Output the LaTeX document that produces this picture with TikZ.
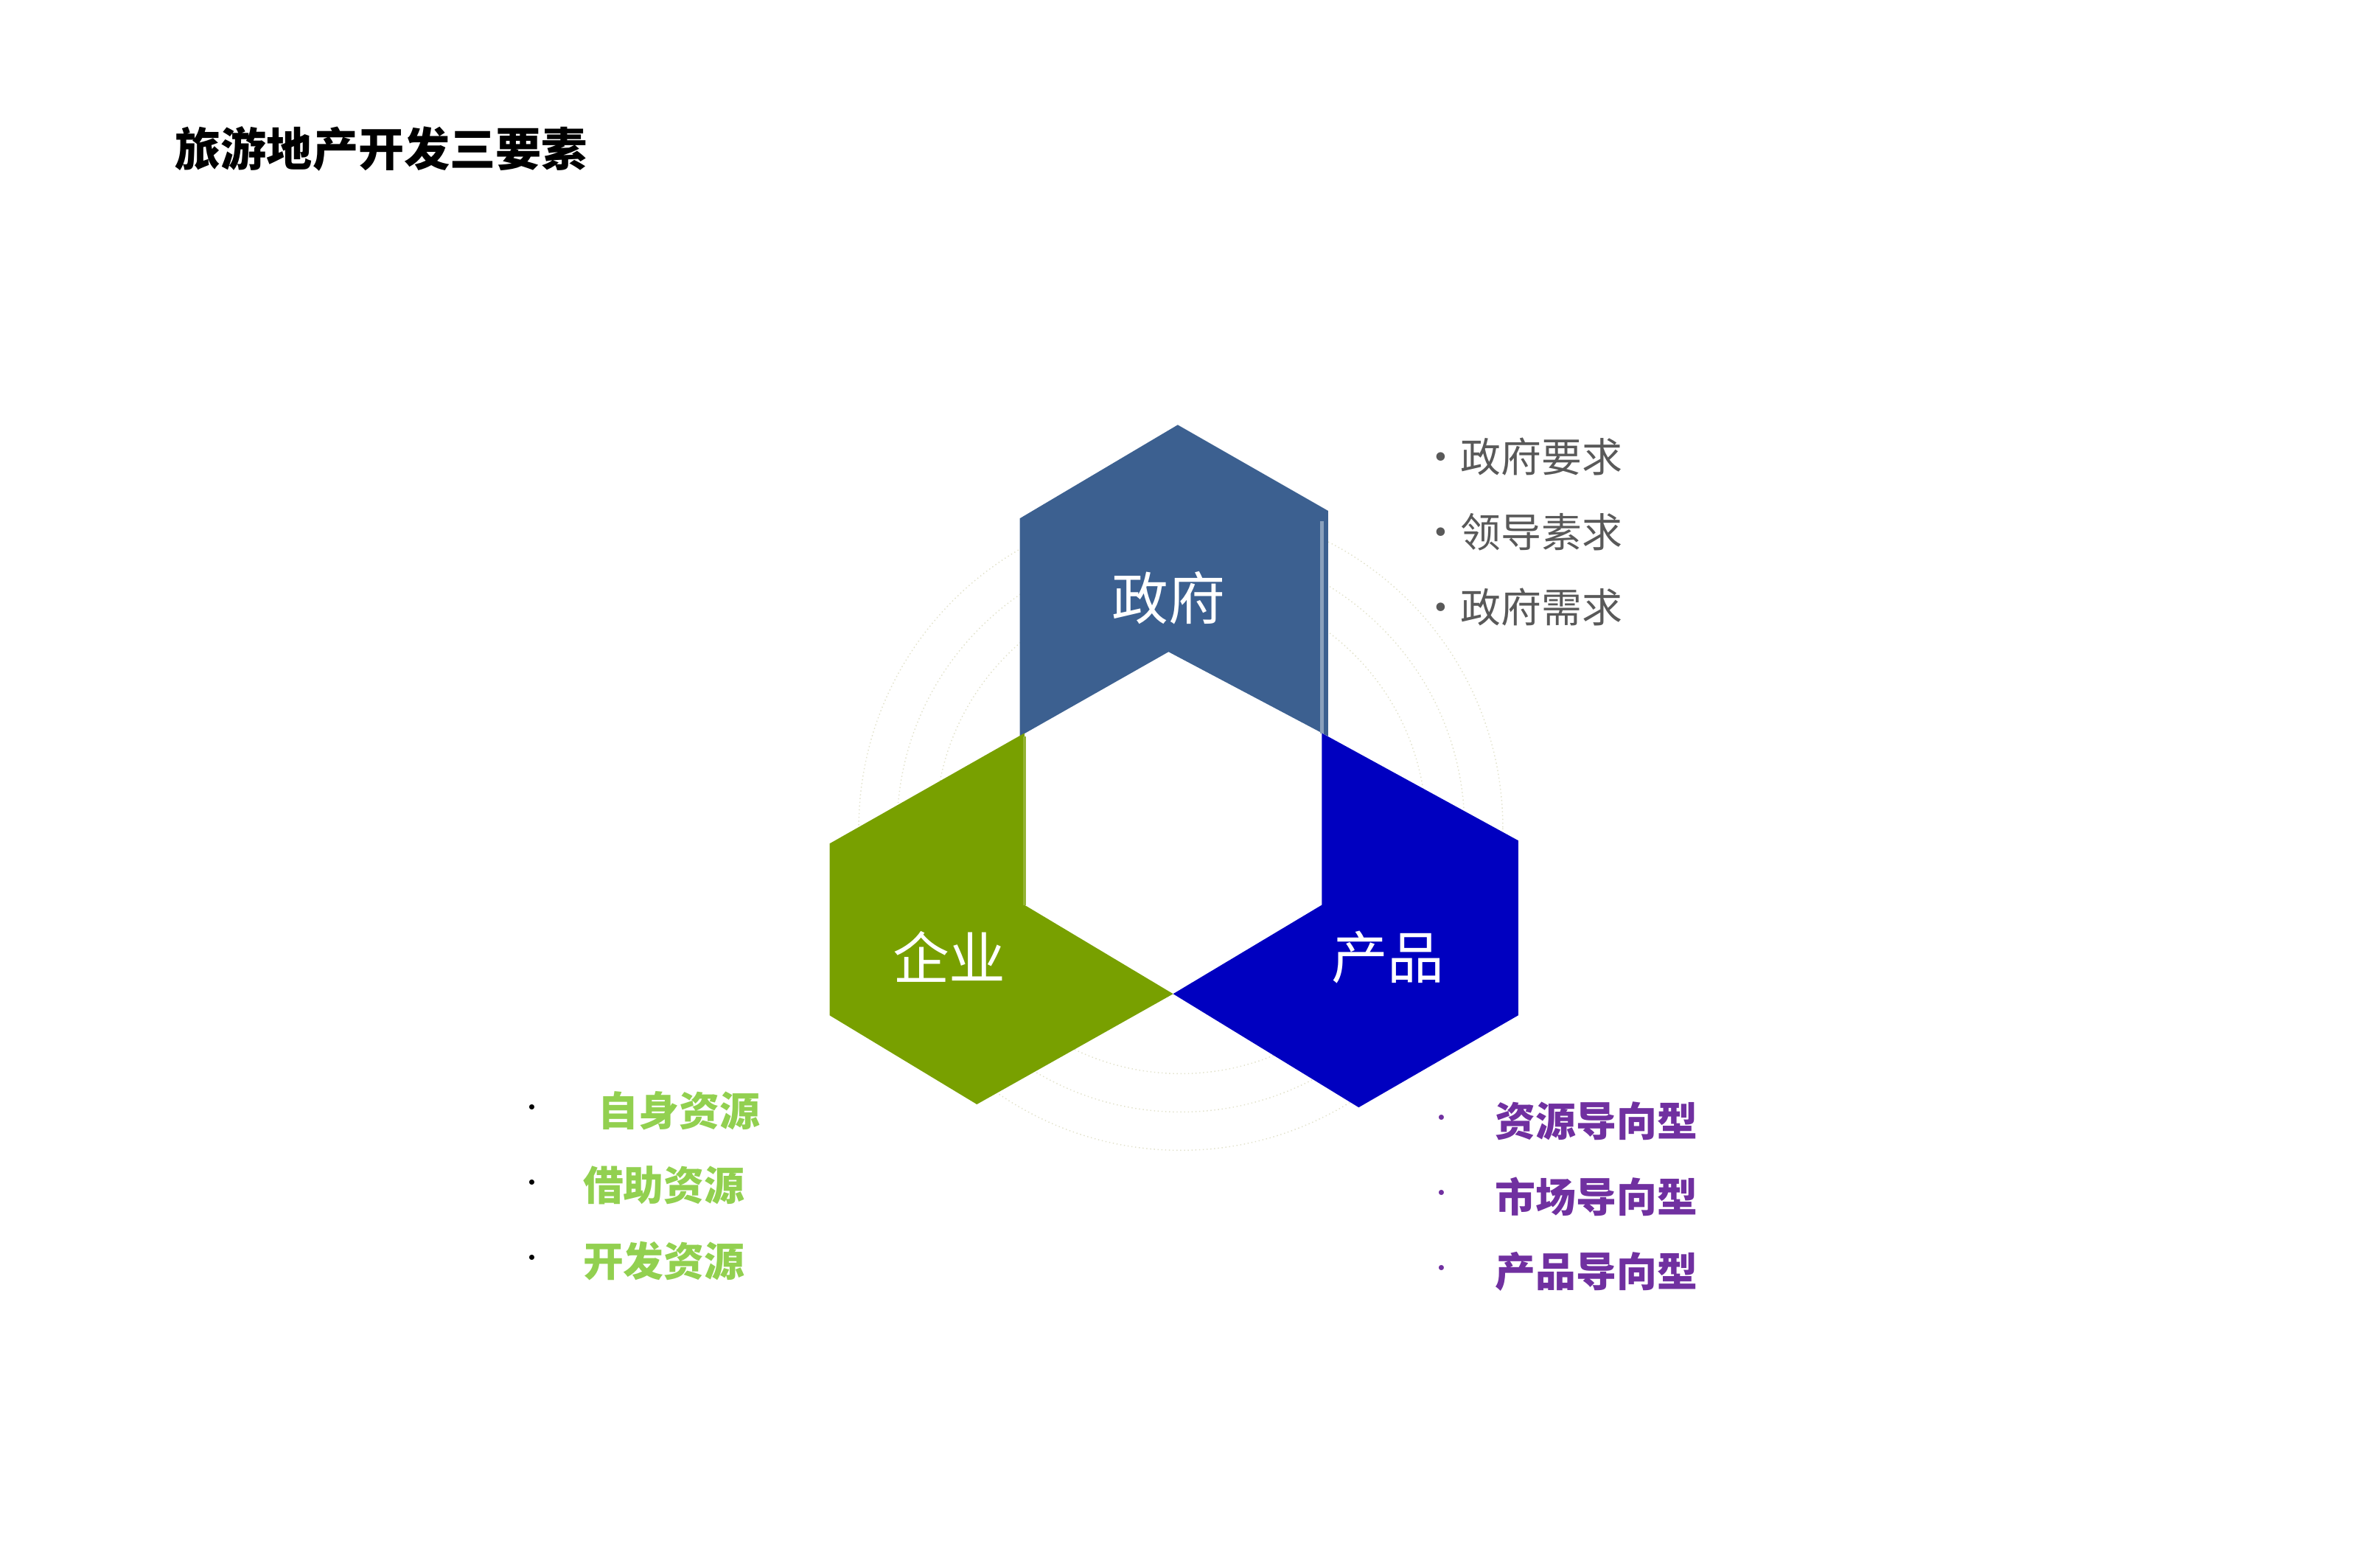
\documentclass[tikz,border=0pt]{standalone}
\usepackage{fontspec}
\setmainfont{Noto Sans CJK SC}
\newfontfamily\cjkbold[BoldFont={Noto Sans CJK SC Bold}]{Noto Sans CJK SC}
\definecolor{govblue}{HTML}{3C6090}
\definecolor{firmgreen}{HTML}{78A000}
\definecolor{prodblue}{HTML}{0000C0}
\definecolor{listgreen}{HTML}{92D050}
\definecolor{listpurple}{HTML}{7030A0}
\definecolor{ringcol}{HTML}{E2E2CC}
\begin{document}
\begin{tikzpicture}[x=0.02cm,y=-0.02cm]
		\tikzstyle hexlabel=[text=white,font=\fontsize{21}{24}\selectfont];
		\tikzstyle itemtext=[anchor=west,font=\fontsize{15}{18}\selectfont];
		\useasboundingbox (0,0) rectangle (1552,1022);
		% TITLE
		\node[anchor=west,font=\fontsize{17}{20}\selectfont\bfseries] (title) at (108,97) {旅游地产开发三要素};

		% RINGS
		\foreach \r in {160,185,210}
			\draw[ringcol,densely dotted,thin] (770,540) circle (\r);

		% HEXAGONS
		\fill[govblue] (665,338) -- (768,277) -- (866,333) -- (866,480) -- (762,425) -- (665,480) -- cycle;
		\draw[govblue!60!white,very thick] (862,340) -- (862,478);
		\fill[firmgreen] (541,550) -- (668,478) -- (668,590) -- (765,648) -- (637,720) -- (541,662) -- cycle;
		\draw[firmgreen!80!white,very thick] (668,480) -- (668,590);
		\fill[prodblue] (862,478) -- (990,548) -- (990,662) -- (886,722) -- (765,648) -- (862,590) -- cycle;

		\node[hexlabel] (gov) at (762,390) {政府};
		\node[hexlabel] (firm) at (619,624) {企业};
		\node[hexlabel] (prod) at (905,624) {产品};

		% LISTS
		\foreach \t [count=\i] in {政府要求,领导素求,政府需求}
			\node[itemtext,text=black!65] (gov\i) at (920,249+49*\i) {•\t};
		\foreach \t/\x [count=\i] in {自身资源/384,借助资源/374,开发资源/374}{
			\node[font=\small] (gdot\i) at (347,675+49*\i) {•};
			\node[itemtext,text=listgreen,font=\fontsize{15}{18}\selectfont\bfseries] (firm\i) at (\x,675+49*\i) {\t};
		}
		\foreach \t [count=\i] in {资源导向型,市场导向型,产品导向型}{
			\node[font=\small,text=listpurple] (pdot\i) at (940,682+49*\i) {•};
			\node[itemtext,text=listpurple,font=\fontsize{15}{18}\selectfont\bfseries] (prod\i) at (969,682+49*\i) {\t};
		}
\end{tikzpicture}
\end{document}
